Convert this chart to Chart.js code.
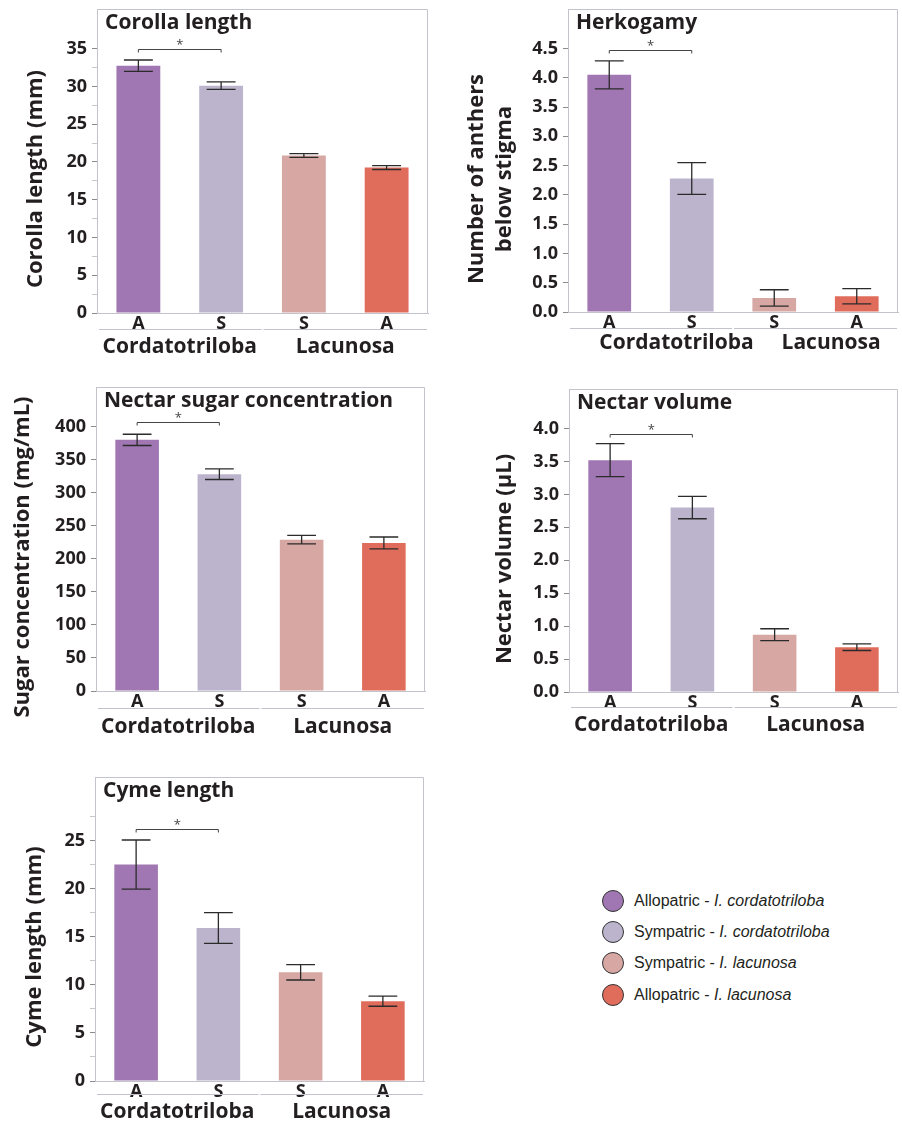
<!DOCTYPE html>
<html>
<head>
<meta charset="utf-8">
<script src="https://cdn.jsdelivr.net/npm/chart.js@4.4.1/dist/chart.umd.min.js"></script>
<style>
  body { margin: 0; background: #fff; }
  #page { position: relative; width: 902px; height: 1122px; overflow: hidden; }
  canvas { position: absolute; }
  .legend { position: absolute; left: 602px; top: 885px; font-family: "Liberation Sans", Arial, sans-serif; font-size: 16px; color: #231f20; }
  .legend div { height: 31.3px; display: flex; align-items: center; white-space: pre; }
  .legend span.dot { display: inline-block; width: 20px; height: 20px; border-radius: 50%; border: 1px solid #333; margin-right: 10px; }
</style>
</head>
<body>
<div id="page">
  <canvas id="corolla" width="450" height="365" style="left:0;top:0"></canvas>
  <canvas id="herkogamy" width="452" height="365" style="left:450px;top:0"></canvas>
  <canvas id="sugar" width="450" height="380" style="left:0;top:370px"></canvas>
  <canvas id="volume" width="452" height="380" style="left:450px;top:370px"></canvas>
  <canvas id="cyme" width="450" height="362" style="left:0;top:760px"></canvas>
  <div class="legend" id="legend"></div>
</div>
<script>
// categories
const populations = ['A', 'S', 'S', 'A']
const groups = ['Cordatotriloba', 'Lacunosa']
const legendPop = ['Allopatric', 'Sympatric', 'Sympatric', 'Allopatric']
const legendSpecies = ['I. cordatotriloba', 'I. cordatotriloba', 'I. lacunosa', 'I. lacunosa']
const barColors = ['#a077b2', '#bbb4cc', '#d7a7a3', '#e06c5c']

// series: means and standard errors
const corollaMean = [32.75, 30.1, 20.85, 19.25]
const corollaErr = [0.75, 0.5, 0.25, 0.25]
const herkogamyMean = [4.05, 2.28, 0.24, 0.27]
const herkogamyErr = [0.24, 0.27, 0.14, 0.13]
const sugarMean = [380, 328, 229, 224]
const sugarErr = [8.5, 8, 6.5, 9]
const volumeMean = [3.52, 2.8, 0.87, 0.68]
const volumeErr = [0.25, 0.17, 0.09, 0.05]
const cymeMean = [22.5, 15.9, 11.3, 8.3]
const cymeErr = [2.55, 1.6, 0.8, 0.53]

// tick labels
const corollaTicks = [0, 5, 10, 15, 20, 25, 30, 35]
const corollaMinor = [2.5, 7.5, 12.5, 17.5, 22.5, 27.5, 32.5]
const herkogamyTicks = [0, 0.5, 1, 1.5, 2, 2.5, 3, 3.5, 4, 4.5]
const sugarTicks = [0, 50, 100, 150, 200, 250, 300, 350, 400]
const volumeTicks = [0, 0.5, 1, 1.5, 2, 2.5, 3, 3.5, 4]
const cymeTicks = [0, 5, 10, 15, 20, 25]
const cymeMinor = [2.5, 7.5, 12.5, 17.5, 22.5, 27.5]

const textColor = '#231f20'
const axisColor = '#c3c3cb'
const FONT = '"Open Sans", "Noto Sans", sans-serif'

const panelDecor = {
  id: 'panelDecor',
  afterDatasetsDraw(chart, args, opts) {
    const p = opts.panel
    const { ctx, chartArea: a, scales: { x, y } } = chart
    const meta = chart.getDatasetMeta(0)
    ctx.save()

    // frame top + right
    ctx.strokeStyle = axisColor
    ctx.lineWidth = 1
    ctx.beginPath()
    ctx.moveTo(a.left, a.top + 0.5)
    ctx.lineTo(a.right - 0.5, a.top + 0.5)
    ctx.lineTo(a.right - 0.5, a.bottom)
    ctx.stroke()

    // error bars
    ctx.strokeStyle = '#2b2b2b'
    ctx.lineWidth = 1.3
    p.means.forEach((m, i) => {
      const cx = x.getPixelForValue(i)
      const half = meta.data[i].width * 0.33
      const hi = y.getPixelForValue(m + p.errs[i])
      const lo = y.getPixelForValue(m - p.errs[i])
      ctx.beginPath()
      ctx.moveTo(cx, hi); ctx.lineTo(cx, lo)
      ctx.moveTo(cx - half, hi); ctx.lineTo(cx + half, hi)
      ctx.moveTo(cx - half, lo); ctx.lineTo(cx + half, lo)
      ctx.stroke()
    })

    // significance bracket
    const bx1 = x.getPixelForValue(0)
    const bx2 = x.getPixelForValue(1)
    const by = Math.round(y.getPixelForValue(p.bracket)) + 0.5
    ctx.strokeStyle = '#444'
    ctx.lineWidth = 1
    ctx.beginPath()
    ctx.moveTo(bx1, by + 3); ctx.lineTo(bx1, by); ctx.lineTo(bx2, by); ctx.lineTo(bx2, by + 3)
    ctx.stroke()
    ctx.fillStyle = '#444'
    ctx.font = '13px ' + FONT
    ctx.textAlign = 'center'
    ctx.textBaseline = 'middle'
    ctx.fillText('*', (bx1 + bx2) / 2, by - 4)

    // panel title
    ctx.fillStyle = textColor
    ctx.font = 'bold 21px ' + FONT
    ctx.textAlign = 'left'
    ctx.fillText(p.title, a.left + 8, a.top + 14)

    // y axis title
    ctx.save()
    ctx.font = 'bold 22px ' + FONT
    ctx.translate(a.left + p.titleDx, a.top + 170)
    ctx.rotate(-Math.PI / 2)
    ctx.textAlign = 'center'
    p.yTitle.forEach((line, k) => ctx.fillText(line, 0, k * 28))
    ctx.restore()

    // group separators and names
    const mid = (x.getPixelForValue(1) + x.getPixelForValue(2)) / 2
    const gy = Math.round(a.bottom + p.groupLineDy) + 0.5
    ctx.strokeStyle = axisColor
    ctx.beginPath()
    ctx.moveTo(a.left + 2, gy); ctx.lineTo(mid - 1, gy)
    ctx.moveTo(mid + 1, gy); ctx.lineTo(a.right - 1, gy)
    ctx.stroke()
    ctx.font = 'bold 21px ' + FONT
    ctx.textAlign = 'center'
    ctx.fillText(groups[0], (a.left + mid) / 2 + p.groupShift, a.bottom + p.groupTextDy)
    ctx.fillText(groups[1], (mid + a.right) / 2 + p.groupShift * 0.6, a.bottom + p.groupTextDy)
    ctx.restore()
  }
}

function makePanel(id, p) {
  const major = new Set(p.ticks)
  const allTicks = p.ticks.concat(p.minor).sort((u, v) => u - v)
  return new Chart(document.getElementById(id), {
    type: 'bar',
    data: {
      labels: populations,
      datasets: [{
        data: p.means,
        backgroundColor: barColors,
        barPercentage: 0.53,
        categoryPercentage: 1
      }]
    },
    options: {
      responsive: false,
      animation: false,
      layout: { padding: { top: p.padT, right: p.padR, left: 0, bottom: 0 } },
      plugins: {
        legend: { display: false },
        tooltip: { enabled: false },
        panelDecor: { panel: p }
      },
      scales: {
        x: {
          grid: { drawOnChartArea: false, drawTicks: false },
          border: { color: axisColor },
          ticks: { font: { family: FONT, weight: 'bold', size: 18 }, color: textColor, padding: 0 },
          afterFit(s) { s.height = p.xH; s.paddingLeft = 0; s.paddingRight = 0 }
        },
        y: {
          min: 0,
          max: p.max,
          grid: {
            drawOnChartArea: false,
            tickLength: 5,
            tickColor: c => (c.tick && major.has(c.tick.value)) ? '#8a8a90' : '#c8c8cc'
          },
          border: { color: axisColor },
          ticks: {
            autoSkip: false,
            padding: 5,
            font: { family: FONT, weight: 'bold', size: 18 },
            color: textColor,
            callback: v => major.has(v) ? (p.decimals ? v.toFixed(p.decimals) : String(v)) : ''
          },
          afterBuildTicks(s) { s.ticks = allTicks.map(v => ({ value: v })) },
          afterFit(s) { s.width = p.yW; s.paddingTop = 0; s.paddingBottom = 0 }
        }
      }
    },
    plugins: [panelDecor]
  })
}

makePanel('corolla', {
  title: 'Corolla length', yTitle: ['Corolla length (mm)'],
  means: corollaMean, errs: corollaErr, ticks: corollaTicks, minor: corollaMinor,
  max: 40.25, decimals: 0, bracket: 35,
  yW: 97, padR: 22, padT: 9, xH: 52, titleDx: -61,
  groupLineDy: 16, groupTextDy: 34, groupShift: 0
})
makePanel('herkogamy', {
  title: 'Herkogamy', yTitle: ['Number of anthers', 'below stigma'],
  means: herkogamyMean, errs: herkogamyErr, ticks: herkogamyTicks, minor: [],
  max: 5.175, decimals: 1, bracket: 4.48,
  yW: 118, padR: 4, padT: 9, xH: 53, titleDx: -91,
  groupLineDy: 16, groupTextDy: 31, groupShift: 26
})
makePanel('sugar', {
  title: 'Nectar sugar concentration', yTitle: ['Sugar concentration (mg/mL)'],
  means: sugarMean, errs: sugarErr, ticks: sugarTicks, minor: [],
  max: 460, decimals: 0, bracket: 407,
  yW: 96, padR: 25, padT: 17, xH: 59, titleDx: -73,
  groupLineDy: 17, groupTextDy: 36, groupShift: 0
})
makePanel('volume', {
  title: 'Nectar volume', yTitle: ['Nectar volume (\u00b5L)'],
  means: volumeMean, errs: volumeErr, ticks: volumeTicks, minor: [],
  max: 4.6, decimals: 1, bracket: 3.92,
  yW: 119, padR: 4, padT: 19, xH: 58, titleDx: -64,
  groupLineDy: 15, groupTextDy: 33, groupShift: 0
})
makePanel('cyme', {
  title: 'Cyme length', yTitle: ['Cyme length (mm)'],
  means: cymeMean, errs: cymeErr, ticks: cymeTicks, minor: cymeMinor,
  max: 31.6, decimals: 0, bracket: 26.2,
  yW: 95, padR: 26, padT: 17, xH: 41, titleDx: -60,
  groupLineDy: 13, groupTextDy: 31, groupShift: 0
})

// legend
const legendEl = document.getElementById('legend')
legendPop.forEach((pop, i) => {
  const row = document.createElement('div')
  row.innerHTML = '<span class="dot" style="background:' + barColors[i] + '"></span>' +
    pop + ' - <i>' + legendSpecies[i] + '</i>'
  legendEl.appendChild(row)
})
</script>
</body>
</html>
